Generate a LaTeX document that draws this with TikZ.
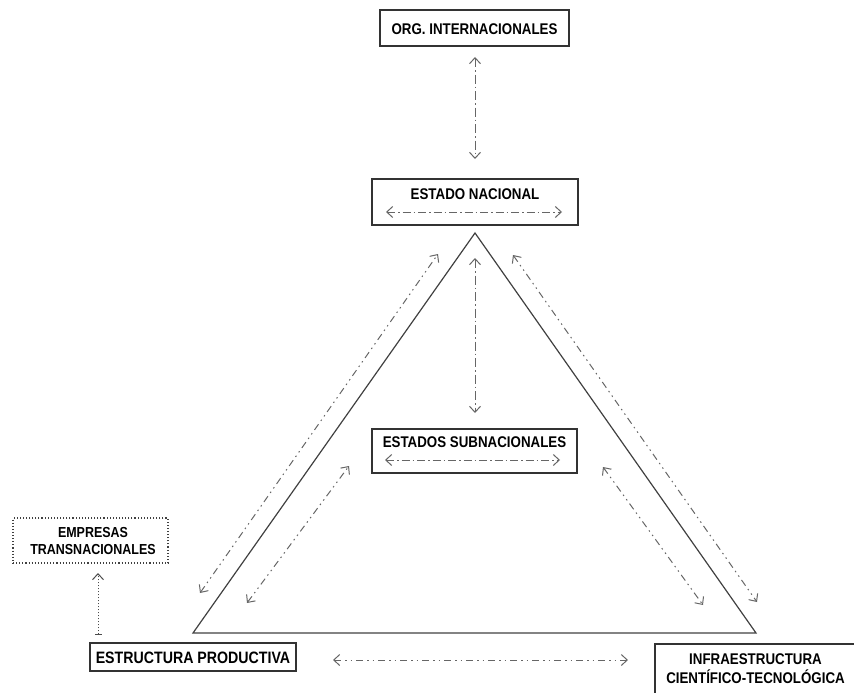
\documentclass[tikz,border=0pt]{standalone}
\usepackage{fontspec}
\setmainfont{Liberation Sans}[FakeStretch=0.86]
\usepackage{tikz}
\usetikzlibrary{positioning,arrows.meta}

\begin{document}
\begin{tikzpicture}[
x=1pt, y=-1pt,
>={Straight Barb[length=6pt,width=11pt]},
box/.style={draw=black!80, line width=1.5pt, inner sep=0pt, fill=white},
dotbox/.style={draw=black!75, line width=1.1pt, dotted, inner sep=0pt, align=center},
lbl/.style={font=\fontsize{15.5}{19}\selectfont\bfseries, inner sep=0pt, text=black},
side/.style={draw=black!75, line width=1.2pt},
dashdot/.style={<->, draw=black!60, line width=1pt, dash pattern=on 9pt off 3pt on 1.5pt off 3pt},
longdash/.style={<->, draw=black!60, line width=1pt, dash pattern=on 8pt off 3pt on 1.5pt off 3pt},
dashdots/.style={<->, draw=black!60, line width=1pt, dash pattern=on 7pt off 4pt on 1.5pt off 4pt on 1.5pt off 4pt},
]
\useasboundingbox (0,0) rectangle (854,693);

%Boxes
\node[box, minimum width=189pt, minimum height=36pt] (org) at (474.5,28) {};
\node[lbl] (org_t) at (474.5,29) {ORG. INTERNACIONALES};

\node[box, minimum width=206pt, minimum height=46pt] (nacional) at (475,202) {};
\node[lbl] (nacional_t) [below=10pt of nacional.north] {ESTADO NACIONAL};

\node[box, minimum width=205pt, minimum height=44pt] (subnac) at (474.5,451) {};
\node[lbl] (subnac_t) [below=8pt of subnac.north] {ESTADOS SUBNACIONALES};

\node[box, minimum width=206pt, minimum height=28pt] (estructura) at (193,657) {};
\node[lbl, font=\fontsize{16.5}{19}\selectfont\bfseries] (estructura_t) at (193,658) {ESTRUCTURA PRODUCTIVA};

\node[box, anchor=north west, minimum width=240pt, minimum height=80pt] (infra) at (654,643) {};
\node[lbl, align=center] (infra_t) at (755.5,669) {INFRAESTRUCTURA\\CIENT\'IFICO-TECNOL\'OGICA};

\node[dotbox, minimum width=155pt, minimum height=45pt] (empresas) at (90.5,540.5) {};
\node[lbl, align=center, font=\fontsize{14.5}{17.5}\selectfont\bfseries] (empresas_t) at (93,541) {EMPRESAS\\TRANSNACIONALES};

%Triangle
\coordinate (apex) at (475,233);
\coordinate (bl) at (193,633);
\coordinate (br) at (756,633);
\draw[side] (apex) -- (bl) -- (br) -- cycle;

%Arrow ends
\coordinate (a1) at (475,57);   \coordinate (a2) at (475,159);
\coordinate (n1) at (386,212);  \coordinate (n2) at (562,212);
\coordinate (v1) at (475,258);  \coordinate (v2) at (475,413);
\coordinate (s1) at (385,460);  \coordinate (s2) at (560,460);
\coordinate (lo1) at (200,593); \coordinate (lo2) at (438,254);
\coordinate (li1) at (247,603); \coordinate (li2) at (349,466);
\coordinate (ro1) at (513,255); \coordinate (ro2) at (757,602);
\coordinate (ri1) at (603,467); \coordinate (ri2) at (703,605);
\coordinate (b1) at (333,660);  \coordinate (b2) at (628,660);
\coordinate (e1) at (98,635);   \coordinate (e2) at (98,573);

%Connections
\draw[dashdot] (a1) -- (a2);
\draw[longdash] (n1) -- (n2);
\draw[dashdot] (v1) -- (v2);
\draw[longdash] (s1) -- (s2);
\draw[dashdots] (lo1) -- (lo2);
\draw[dashdots] (li1) -- (li2);
\draw[dashdots] (ro1) -- (ro2);
\draw[dashdots] (ri1) -- (ri2);
\draw[dashdots] (b1) -- (b2);
\draw[{Bar[width=7pt]}->, draw=black!70, line width=1pt, dotted] (e1) -- (e2);
\end{tikzpicture}
\end{document}
